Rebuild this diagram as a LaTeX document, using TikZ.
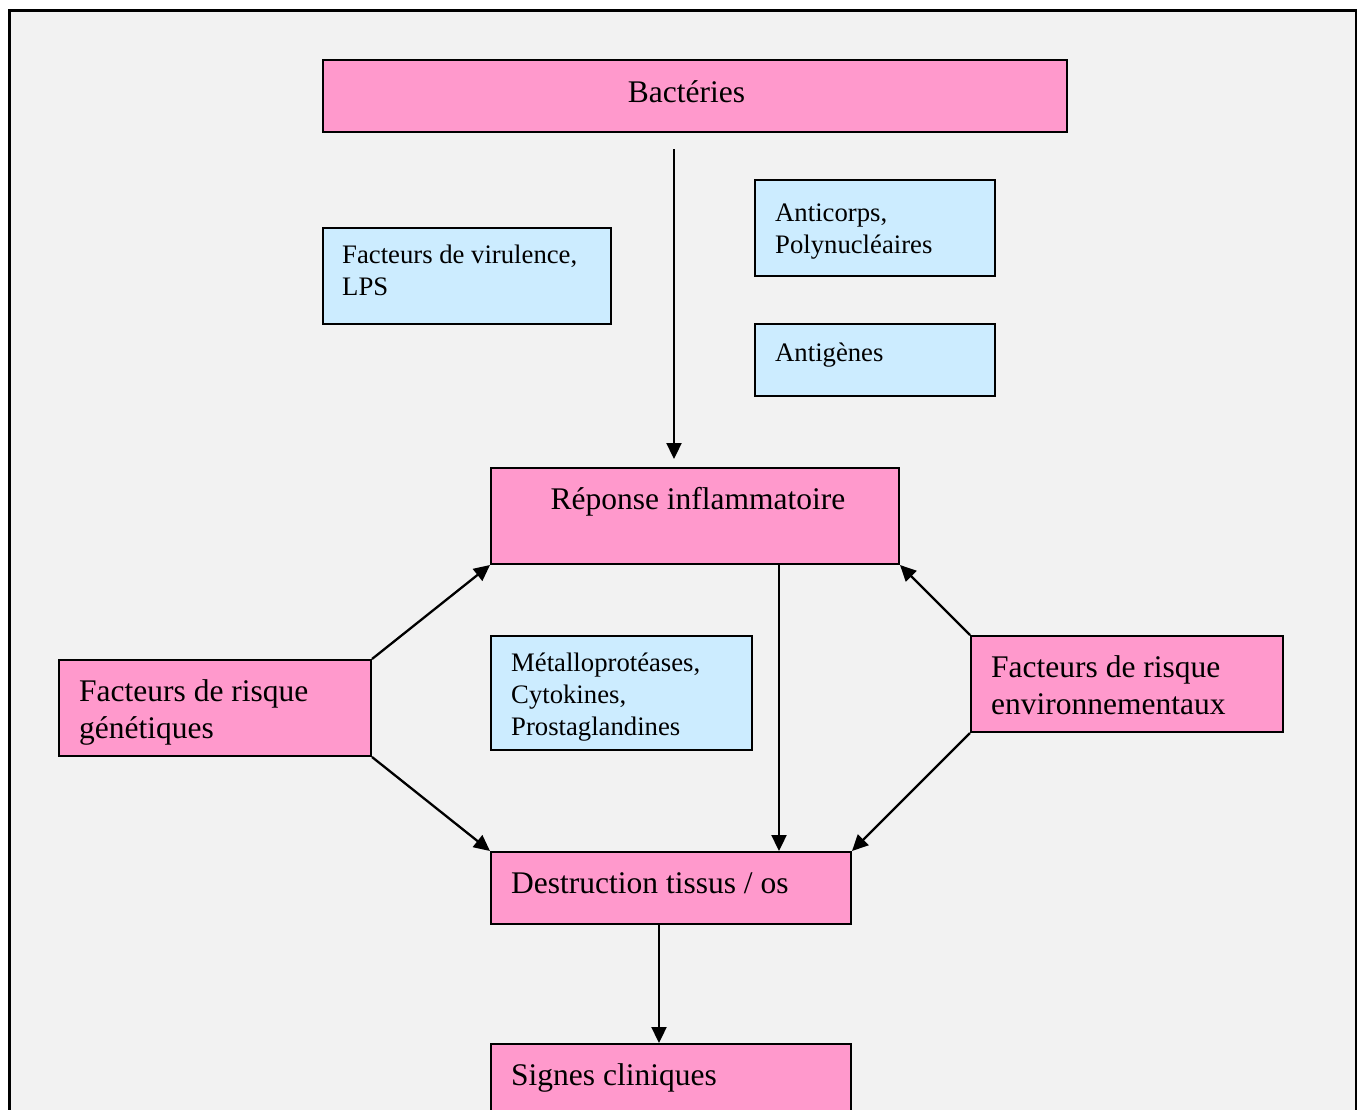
\documentclass[tikz,border=0pt]{standalone}
\usepackage{fontspec}
\setmainfont{Liberation Serif}
\usetikzlibrary{arrows.meta,calc}
\definecolor{bg}{HTML}{F2F2F2}
\definecolor{pinkbox}{HTML}{FF99CC}
\definecolor{bluebox}{HTML}{CCECFF}
\newcommand{\bigtxt}{\fontsize{31.5}{37.5}\selectfont}
\newcommand{\smalltxt}{\fontsize{26.7}{32}\selectfont}
\newcommand{\lines}[1]{\begin{tabular}[t]{@{}l@{}}#1\end{tabular}}
\begin{document}
\begin{tikzpicture}[x=1pt,y=-1pt,
  pinkb/.style={draw=black,line width=2pt,fill=pinkbox,rectangle,inner sep=0pt},
  blueb/.style={draw=black,line width=2pt,fill=bluebox,rectangle,inner sep=0pt},
  btxt/.style={inner sep=0pt,font=\bigtxt,text=black},
  stxt/.style={inner sep=0pt,font=\smalltxt,text=black},
  arr/.style={line width=2.3pt,-{Triangle[length=16pt,width=15pt]}}]
\useasboundingbox (0,0) rectangle (1358,1109);
\clip (0,0) rectangle (1358,1109);
\fill[white] (0,0) rectangle (1358,1109);
\draw[line width=2.5pt,fill=bg] (9.5,10.5) rectangle (1356,1130);

\node[pinkb,minimum width=744pt,minimum height=72pt] (bact) at (695,96) {};
\node[blueb,minimum width=288pt,minimum height=96pt] (vir) at (467,276) {};
\node[blueb,minimum width=240pt,minimum height=96pt] (anti) at (875,228) {};
\node[blueb,minimum width=240pt,minimum height=72pt] (antig) at (875,360) {};
\node[pinkb,minimum width=408pt,minimum height=96pt] (rep) at (695,516) {};
\node[pinkb,minimum width=312pt,minimum height=96pt] (gen) at (215,708) {};
\node[pinkb,minimum width=312pt,minimum height=96pt] (env) at (1127,684) {};
\node[blueb,minimum width=261pt,minimum height=114pt] (met) at (621.5,693) {};
\node[pinkb,minimum width=360pt,minimum height=72pt] (destr) at (671,888) {};
\node[pinkb,minimum width=360pt,minimum height=96pt] (sig) at (671,1092) {};

\node[btxt,anchor=base] (tbact) at ($(bact.north)+(-8.5,43)$) {Bactéries};
\node[stxt,anchor=base west] (tvir) at ($(vir.north west)+(20,36.5)$) {\lines{Facteurs de virulence,\\LPS}};
\node[stxt,anchor=base west] (tanti) at ($(anti.north west)+(21,42)$) {\lines{Anticorps,\\Polynucléaires}};
\node[stxt,anchor=base west] (tantig) at ($(antig.north west)+(21,38)$) {Antigènes};
\node[btxt,anchor=base] (trep) at ($(rep.north)+(3,42.5)$) {Réponse inflammatoire};
\node[btxt,anchor=base west] (tgen) at ($(gen.north west)+(21,42)$) {\lines{Facteurs de risque\\génétiques}};
\node[btxt,anchor=base west] (tenv) at ($(env.north west)+(21,42)$) {\lines{Facteurs de risque\\environnementaux}};
\node[stxt,anchor=base west] (tmet) at ($(met.north west)+(21,36)$) {\lines{Métalloprotéases,\\Cytokines,\\Prostaglandines}};
\node[btxt,anchor=base west] (tdestr) at ($(destr.north west)+(21,42.4)$) {Destruction tissus / os};
\node[btxt,anchor=base west] (tsig) at ($(sig.north west)+(21,42.7)$) {Signes cliniques};

\draw[arr,shorten <=16pt,shorten >=8pt] ([xshift=-21pt]bact.south) -- ([xshift=-21pt]rep.north);
\draw[arr] ([xshift=84pt]rep.south) -- ([xshift=84pt]rep.south |- destr.north);
\draw[arr] (gen.north east) -- (rep.south west);
\draw[arr] (gen.south east) -- (destr.north west);
\draw[arr] (env.north west) -- (rep.south east);
\draw[arr] (env.south west) -- (destr.north east);
\draw[arr] ([xshift=-12pt]destr.south) -- ([xshift=-12pt]destr.south |- sig.north);
\end{tikzpicture}
\end{document}
